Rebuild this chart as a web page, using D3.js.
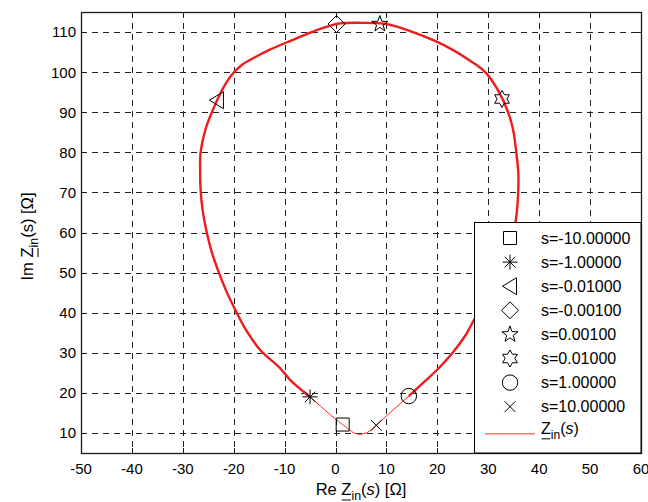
<!DOCTYPE html>
<html>
<head>
<meta charset="utf-8">
<script src="https://cdn.jsdelivr.net/npm/d3@7"></script>
<style>
  body { margin: 0; background: #fff; }
  text { font-family: "Liberation Sans", Arial, sans-serif; fill: #000; }
</style>
</head>
<body>
<div id="chart"></div>
<script>
// 曲線資料 (Re, Im) 由圖上讀取
const curveRe = [4.8, 3.5, 2.0, -1.0, -5.0, -8.9, -11.0, -14.8, -17.5, -19.5, -21.5, -23.1, -24.4, -25.4,
  -26.1, -26.5, -26.6, -26.5, -25.6, -24.3, -22.5, -21.3, -20.0, -18.4, -16.0, -12.9, -8.5, -4.7, -1.5, 0.5, 5.0, 10.0,
  15.2, 19.3, 23.1, 26.5, 29.4, 31.9, 33.9, 34.9, 35.5, 35.9, 35.9, 35.6, 35.0, 33.8, 32.0, 29.8, 27.2,
  25.6, 23.0, 20.3, 17.3, 14.4, 11.0, 8.0, 6.2, 4.8];
const curveIm = [9.6, 10.1, 11.5, 14.5, 19.0, 23.2, 26.3, 30.7, 35.5, 40.2, 45.5, 50.6, 55.5, 60.6,
  65.5, 70.5, 75.5, 80.0, 85.5, 90.0, 95.0, 97.7, 99.9, 101.8, 103.6, 105.6, 108.0, 110.0, 111.4, 112.1, 112.3, 112.0,
  110.0, 107.9, 105.5, 102.8, 100.0, 95.5, 90.0, 85.5, 80.0, 75.0, 70.6, 65.0, 60.0, 55.0, 49.0, 43.5, 38.2,
  34.5, 30.0, 26.2, 22.6, 19.2, 15.4, 11.9, 10.1, 9.6];

// 標記點
const markerLabels = ["s=-10.00000", "s=-1.00000", "s=-0.01000", "s=-0.00100",
  "s=0.00100", "s=0.01000", "s=1.00000", "s=10.00000"];
const markerRe = [1.4, -5.0, -23.3, 0.2, 8.7, 32.7, 14.4, 8.0];
const markerIm = [12.1, 19.0, 93.0, 112.0, 112.0, 93.3, 19.2, 11.9];

// 刻度
const xTicks = [-50, -40, -30, -20, -10, 0, 10, 20, 30, 40, 50, 60];
const yTicks = [10, 20, 30, 40, 50, 60, 70, 80, 90, 100, 110];

// 標記形狀
const symbols = ["square", "asterisk", "triangleLeft", "diamond", "pentagram", "hexagram", "circle", "cross"];

function starPath(n, ro, ri) {
  const pts = [];
  for (let i = 0; i < 2 * n; i++) {
    const r = i % 2 === 0 ? ro : ri;
    const a = -Math.PI / 2 + i * Math.PI / n;
    pts.push([r * Math.cos(a), r * Math.sin(a)]);
  }
  return "M" + pts.map(p => p[0].toFixed(2) + "," + p[1].toFixed(2)).join("L") + "Z";
}

function markerPath(type) {
  switch (type) {
    case "square": return "M-6.5,-6.5H6.5V6.5H-6.5Z";
    case "asterisk": return "M-7.5,0H7.5M0,-7.5V7.5M-5.3,-5.3L5.3,5.3M-5.3,5.3L5.3,-5.3";
    case "triangleLeft": return "M-7.5,0L6.5,-8.5L6.5,8.5Z";
    case "diamond": return "M0,-8.5L8.5,0L0,8.5L-8.5,0Z";
    case "pentagram": return starPath(5, 8.5, 3.4);
    case "hexagram": return starPath(6, 8.5, 4.9);
    case "circle": return "M7.7,0A7.7,7.7 0 1,1 -7.7,0A7.7,7.7 0 1,1 7.7,0Z";
    case "cross": return "M-5.5,-5.5L5.5,5.5M-5.5,5.5L5.5,-5.5";
  }
}

const W = 648, H = 502;
const margin = {top: 12, right: 7, bottom: 49, left: 81};
const width = W - margin.left - margin.right;
const height = H - margin.top - margin.bottom;

const svg = d3.select("#chart").append("svg")
    .attr("width", W)
    .attr("height", H);

const g = svg.append("g")
    .attr("transform", `translate(${margin.left},${margin.top})`);

const x = d3.scaleLinear().domain([-50, 60]).range([0, width]);
const y = d3.scaleLinear().domain([5, 115]).range([height, 0]);

// 格線
g.append("g")
  .selectAll("line")
  .data(xTicks.slice(1, -1))
  .join("line")
    .attr("x1", d => Math.round(x(d)) + 0.5)
    .attr("x2", d => Math.round(x(d)) + 0.5)
    .attr("y1", 0)
    .attr("y2", height)
    .attr("stroke", "#222")
    .attr("stroke-dasharray", "6,5");

g.append("g")
  .selectAll("line")
  .data(yTicks)
  .join("line")
    .attr("x1", 0)
    .attr("x2", width)
    .attr("y1", d => Math.round(y(d)) + 0.5)
    .attr("y2", d => Math.round(y(d)) + 0.5)
    .attr("stroke", "#222")
    .attr("stroke-dasharray", "6,5");

// 曲線
const pts = curveRe.map((d, i) => [x(d), y(curveIm[i])]);
const line = d3.line().curve(d3.curveCatmullRom.alpha(0.5));

function nearest(re, im) {
  let best = 0, bd = Infinity;
  curveRe.forEach((d, i) => {
    const dd = (d - re) ** 2 + (curveIm[i] - im) ** 2;
    if (dd < bd) { bd = dd; best = i; }
  });
  return best;
}
const i0 = nearest(markerRe[1], markerIm[1]);
const i1 = nearest(markerRe[6], markerIm[6]);

g.append("path")
    .attr("d", line(pts))
    .attr("fill", "none")
    .attr("stroke", "#f22")
    .attr("stroke-width", 1);

g.append("path")
    .attr("d", line(pts.slice(i0, i1 + 1)))
    .attr("fill", "none")
    .attr("stroke", "#f01c1c")
    .attr("stroke-width", 2.4);

// 標記
g.append("g")
  .selectAll("path")
  .data(markerRe)
  .join("path")
    .attr("transform", (d, i) => `translate(${x(d)},${y(markerIm[i])})`)
    .attr("d", (d, i) => markerPath(symbols[i]))
    .attr("fill", "none")
    .attr("stroke", "#000")
    .attr("stroke-width", 1);

// 座標軸外框與刻度
g.append("rect")
    .attr("x", 0.5).attr("y", 0.5)
    .attr("width", width).attr("height", height)
    .attr("fill", "none")
    .attr("stroke", "#1a1a1a")
    .attr("stroke-width", 1.3);

const tickLen = 5;
g.append("g").selectAll("path")
  .data(xTicks)
  .join("path")
    .attr("d", d => {
      const px = Math.round(x(d)) + 0.5;
      return `M${px},${height}v${-tickLen}M${px},0v${tickLen}`;
    })
    .attr("stroke", "#1a1a1a");

g.append("g").selectAll("path")
  .data(yTicks)
  .join("path")
    .attr("d", d => {
      const py = Math.round(y(d)) + 0.5;
      return `M0,${py}h${tickLen}M${width},${py}h${-tickLen}`;
    })
    .attr("stroke", "#1a1a1a");

g.append("g").selectAll("text")
  .data(xTicks)
  .join("text")
    .attr("x", d => x(d))
    .attr("y", height + 20.5)
    .attr("text-anchor", "middle")
    .style("font-size", "15px")
    .text(d => d);

g.append("g").selectAll("text")
  .data(yTicks)
  .join("text")
    .attr("x", -5)
    .attr("y", d => y(d))
    .attr("dy", "0.36em")
    .attr("text-anchor", "end")
    .style("font-size", "15px")
    .text(d => d);

// 軸標題 (Z 下加底線)
function zLabel(parent, prefix, italicS, fontSize) {
  const t = parent.append("text").style("font-size", fontSize + "px");
  t.append("tspan").text(prefix + "Z");
  t.append("tspan").attr("dy", 5).style("font-size", (fontSize * 0.75) + "px").text("in");
  t.append("tspan").attr("dy", -5).text("(");
  t.append("tspan").style("font-style", italicS ? "italic" : "normal").text("s");
  t.append("tspan").text(") [Ω]");
  return t;
}
function underlineZ(parent, t, idx) {
  const ext = t.node().getExtentOfChar(idx);
  parent.append("line")
      .attr("x1", ext.x + 0.5).attr("x2", ext.x + ext.width - 0.5)
      .attr("y1", ext.y + ext.height + 2).attr("y2", ext.y + ext.height + 2)
      .attr("stroke", "#000").attr("stroke-width", 1);
}

const xl = g.append("g").attr("transform", `translate(${width / 2},${height + 42})`);
const xt = zLabel(xl, "Re ", true, 16.5).attr("text-anchor", "middle");
underlineZ(xl, xt, 3);

const yl = g.append("g").attr("transform", `translate(${-48},${height / 2 + 4}) rotate(-90)`);
const yt = zLabel(yl, "Im ", false, 16.5).attr("text-anchor", "middle");
underlineZ(yl, yt, 3);

// 圖例
const lx = 474 - margin.left, ly = 222 - margin.top;
const legend = g.append("g").attr("transform", `translate(${lx},${ly})`);
legend.append("rect")
    .attr("x", 0.5).attr("y", 0.5)
    .attr("width", width - lx - 0.5)
    .attr("height", height - ly - 0.5)
    .attr("fill", "#fff")
    .attr("stroke", "#000")
    .attr("stroke-width", 1);

const rowH = 24.1, row0 = 16;
const items = legend.selectAll("g.item")
  .data(markerLabels)
  .join("g")
    .attr("class", "item")
    .attr("transform", (d, i) => `translate(0,${row0 + i * rowH})`);
items.append("path")
    .attr("transform", "translate(36,0)")
    .attr("d", (d, i) => markerPath(symbols[i]))
    .attr("fill", "none")
    .attr("stroke", "#000")
    .attr("stroke-width", 1);
items.append("text")
    .attr("x", 67)
    .attr("dy", "0.36em")
    .style("font-size", "16px")
    .text(d => d);

const lastY = row0 + markerLabels.length * rowH;
legend.append("line")
    .attr("x1", 11).attr("x2", 61)
    .attr("y1", lastY + 3).attr("y2", lastY + 3)
    .attr("stroke", "#f33")
    .attr("stroke-width", 1);
const lgT = legend.append("g").attr("transform", `translate(67,${lastY + 3})`);
const lt = zLabel(lgT, "", true, 16);
lt.select("tspan:last-child").text(")");
underlineZ(lgT, lt, 0);
</script>
</body>
</html>
